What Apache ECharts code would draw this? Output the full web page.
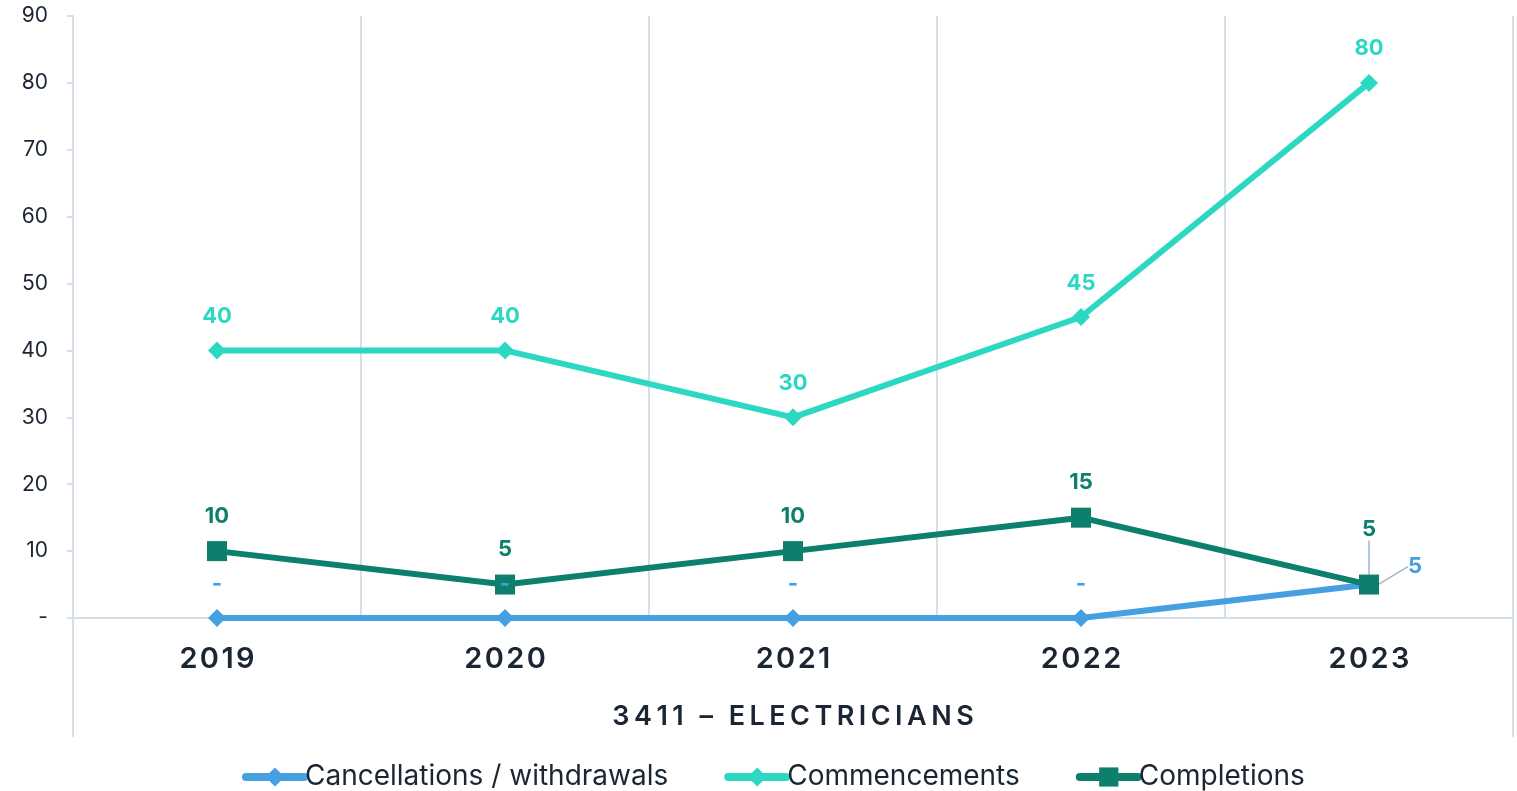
<!DOCTYPE html>
<html>
<head>
<meta charset="utf-8">
<script src="https://cdn.jsdelivr.net/npm/echarts@6/dist/echarts.min.js"></script>
<style>
  html, body { margin: 0; padding: 0; background: #fff; }
  #chart { width: 1517px; height: 791px; }
</style>
</head>
<body>
<div id="chart"></div>
<script>
// 数据
const years = ['2019', '2020', '2021', '2022', '2023'];
const groupName = ['3411 – ELECTRICIANS'];
const cancellations = [0, 0, 0, 0, 5];
const commencements = [40, 40, 30, 45, 80];
const completions = [10, 5, 10, 15, 5];

const colors = {
    cancel: '#459fe0',
    commence: '#2dd8c3',
    complete: '#0d7f6d',
    axis: '#d5dfe9',
    leader: '#9fb6cc',
    text: '#1b2533'
};
const fontFamily = 'Inter, "Noto Sans", sans-serif';

// 字间距（用细空格模拟）
const spaced = s => String(s).split('').join('\u200A');

// 数据标签：0 显示为 "-"
function labelOf(color) {
    return {
        show: true,
        position: 'top',
        distance: 14,
        color: color,
        fontFamily: fontFamily,
        fontWeight: 'bold',
        fontSize: 22,
        formatter: p => (p.value === 0 ? '-' : p.value)
    };
}

// 只给最后一个点加引线
function withLeader(values, idx) {
    return values.map((v, i) => i === idx
        ? {value: v, labelLine: {show: true, lineStyle: {color: colors.leader, width: 1.5}}}
        : v);
}

const option = {
    animation: false,
    grid: [
        {left: 73, right: 4, top: 16, bottom: 173},
        {left: 73, right: 4, top: 618, bottom: 54}
    ],
    xAxis: [
        {
            type: 'category',
            gridIndex: 0,
            data: years,
            boundaryGap: true,
            axisLine: {show: true, lineStyle: {color: colors.axis, width: 2}},
            axisTick: {show: false},
            splitLine: {show: true, lineStyle: {color: colors.axis, width: 2}},
            axisLabel: {
                color: colors.text,
                fontFamily: fontFamily,
                fontWeight: 600,
                fontSize: 29,
                margin: 27,
                formatter: spaced
            }
        },
        {
            type: 'category',
            gridIndex: 1,
            data: groupName,
            boundaryGap: true,
            axisLine: {show: false},
            axisTick: {show: false},
            splitLine: {show: true, lineStyle: {color: colors.axis, width: 2}},
            axisLabel: {
                inside: true,
                margin: 7,
                color: colors.text,
                fontFamily: fontFamily,
                fontWeight: 600,
                fontSize: 27,
                formatter: s => s.split('').join('\u2009')
            }
        }
    ],
    yAxis: [
        {
            type: 'value',
            gridIndex: 0,
            min: 0,
            max: 90,
            interval: 10,
            axisLine: {show: true, lineStyle: {color: colors.axis, width: 2}},
            axisTick: {show: true, length: 6, lineStyle: {color: colors.axis, width: 2}},
            splitLine: {show: false},
            axisLabel: {
                color: colors.text,
                fontFamily: fontFamily,
                fontSize: 21,
                margin: 25,
                formatter: v => (v === 0 ? '-' : v)
            }
        },
        {
            type: 'value',
            gridIndex: 1,
            show: false
        }
    ],
    legend: {
        bottom: -5,
        left: 237,
        itemWidth: 58,
        itemHeight: 24,
        itemGap: 56,
        lineStyle: {width: 8, cap: 'round'},
        textStyle: {color: colors.text, fontFamily: fontFamily, fontSize: 28, padding: [0, 0, 0, -4]},
        data: ['Cancellations / withdrawals', 'Commencements', 'Completions']
    },
    series: [
        {
            name: 'Cancellations / withdrawals',
            type: 'line',
            data: withLeader(cancellations, 4),
            color: colors.cancel,
            symbol: 'diamond',
            symbolSize: 18,
            lineStyle: {width: 6},
            label: labelOf(colors.cancel),
            labelLayout: p => (p.dataIndex === 4 ? {dx: 46, dy: 16} : {})
        },
        {
            name: 'Commencements',
            type: 'line',
            data: commencements,
            color: colors.commence,
            symbol: 'diamond',
            symbolSize: 18,
            lineStyle: {width: 6},
            label: labelOf(colors.commence)
        },
        {
            name: 'Completions',
            type: 'line',
            data: withLeader(completions, 4),
            color: colors.complete,
            symbol: 'rect',
            symbolSize: 20,
            lineStyle: {width: 6},
            label: labelOf(colors.complete),
            labelLayout: p => (p.dataIndex === 4 ? {dy: -20} : {})
        }
    ]
};

const chart = echarts.init(document.getElementById('chart'));
chart.setOption(option);
</script>
</body>
</html>
